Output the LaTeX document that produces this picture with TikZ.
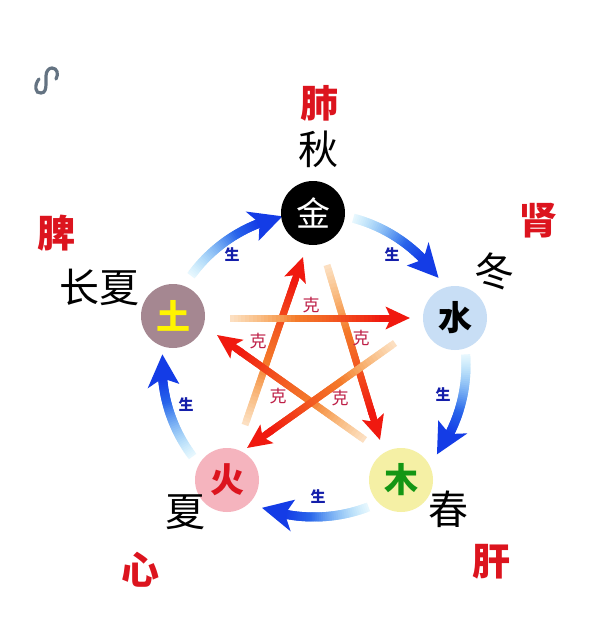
\documentclass[tikz,border=0pt]{standalone}
\usepackage{fontspec}
\newfontfamily\cjk{Noto Sans CJK SC}
\usetikzlibrary{calc,arrows.meta}
\definecolor{shblue}{RGB}{20,60,230}
\definecolor{shcyan}{RGB}{90,200,245}
\definecolor{kered}{RGB}{240,25,15}
\definecolor{keorange}{RGB}{245,150,50}
\definecolor{labred}{RGB}{220,20,30}
\definecolor{kelab}{RGB}{190,30,70}
\definecolor{shlab}{RGB}{20,30,170}
\definecolor{shuiblue}{RGB}{200,222,245}
\definecolor{muyellow}{RGB}{245,240,165}
\definecolor{huopink}{RGB}{245,180,190}
\definecolor{tumauve}{RGB}{165,135,145}
\definecolor{mugreen}{RGB}{20,150,20}
\definecolor{tuyellow}{RGB}{255,245,0}
\definecolor{linkgray}{RGB}{100,115,130}
\newcommand\shengarc[2]{%
  \pgfmathsetmacro\aend{#2+9}%
  \foreach \k in {0,...,39}{%
    \pgfmathsetmacro\sa{#1+(\aend-(#1))*\k/40}%
    \pgfmathsetmacro\ea{#1+(\aend-(#1))*(\k+2)/40}%
    \pgfmathsetmacro\p{100*\k/39}%
    \pgfmathsetmacro\q{min(100,15+120*\k/39)}%
    \draw[line width=9pt, draw=shblue!\p!shcyan!\q] ($(C)+(\sa:152)$) arc[start angle=\sa, end angle=\ea, radius=152];
  }%
  \pgfmathsetmacro\ba{#2+12}%
  \pgfmathsetmacro\ia{#2+9}%
  \fill[shblue] ($(C)+(#2:152)$) -- ($(C)+(\ba:168)$) -- ($(C)+(\ia:152)$) -- ($(C)+(\ba:136)$) -- cycle;
}
\newcommand\kearrow[2]{%
  \foreach \k in {0,...,39}{%
    \pgfmathsetmacro\sa{0.85*\k/40}%
    \pgfmathsetmacro\ea{0.85*(\k+2)/40}%
    \pgfmathsetmacro\p{min(100,100*(\k/39)^1.8)}%
    \pgfmathsetmacro\q{min(100,30+160*\k/39)}%
    \draw[line width=7pt, draw=kered!\p!keorange!\q] ($(#1)!\sa!(#2)$) -- ($(#1)!\ea!(#2)$);
  }%
  \draw[line width=7pt, kered, -{Stealth[length=24pt,width=22pt,inset=5pt]}] ($(#1)!0.83!(#2)$) -- (#2);
}
\tikzset{
  elem/.style={circle, minimum size=64pt, inner sep=0pt, font=\cjk\bfseries\fontsize{34}{34}\selectfont},
  organ/.style={text=labred, font=\cjk\bfseries\fontsize{38}{38}\selectfont, inner sep=0pt},
  season/.style={text=black, font=\cjk\fontsize{40}{40}\selectfont, inner sep=0pt},
  shenglab/.style={text=shlab, font=\cjk\bfseries\fontsize{15}{15}\selectfont, inner sep=0pt},
  kelabel/.style={text=kelab, font=\cjk\fontsize{17}{17}\selectfont, inner sep=0pt}
}
\begin{document}
\begin{tikzpicture}[x=1pt,y=1pt]
\useasboundingbox (0,0) rectangle (598,-639);
\fill[white] (0,0) rectangle (598,-639);
\coordinate (C) at (314,-365);
% link icon
\draw[linkgray, line width=3.2pt, line cap=round] (39,-79) .. controls (34,-85) and (35,-94) .. (41,-93) .. controls (45,-93) and (46,-89) .. (46,-84) -- (46,-76) .. controls (46,-71) and (49,-68) .. (52,-68) .. controls (57,-68) and (59,-74) .. (56,-79);
% ke star
\coordinate (a1) at (230,-318); \coordinate (a2) at (410,-318);
\coordinate (b1) at (395,-343); \coordinate (b2) at (247,-448);
\coordinate (c1) at (245,-425); \coordinate (c2) at (303,-257);
\coordinate (d1) at (327,-265); \coordinate (d2) at (380,-440);
\coordinate (e1) at (365,-440); \coordinate (e2) at (217,-335);
\kearrow{c1}{c2}
\kearrow{d1}{d2}
\kearrow{e1}{e2}
\kearrow{b1}{b2}
\kearrow{a1}{a2}
% sheng arcs
\shengarc{144}{102}
\shengarc{75}{35}
\shengarc{4}{-36}
\shengarc{-69}{-110}
\shengarc{-143}{-184}
% elements
\node[elem, fill=black, text=white, font=\cjk\fontsize{34}{34}\selectfont] (jin) at (313,-213) {金};
\node[elem, fill=shuiblue, text=black] (shui) at (455,-318) {水};
\node[elem, fill=muyellow, text=mugreen] (mu) at (401,-480) {木};
\node[elem, fill=huopink, text=labred] (huo) at (227,-480) {火};
\node[elem, fill=tumauve, text=tuyellow] (tu) at (173,-316) {土};
% labels
\node[organ] (fei) at (319,-103) {肺};
\node[season] (qiu) at (318,-149) {秋};
\node[organ] (shen) at (538,-221) {肾};
\node[season] (dong) at (494,-271) {冬};
\node[organ] (pi) at (56,-233) {脾};
\node[season] (changxia) at (99,-287) {长夏};
\node[organ] (gan) at (491,-562) {肝};
\node[season] (chun) at (448,-509) {春};
\node[organ] (xin) at (140,-570) {心};
\node[season] (xia) at (185,-512) {夏};
% sheng labels
\node[shenglab] (s1) at (232,-255) {生};
\node[shenglab] (s2) at (392,-255) {生};
\node[shenglab] (s3) at (443,-395) {生};
\node[shenglab] (s4) at (318,-497) {生};
\node[shenglab] (s5) at (186,-405) {生};
% ke labels
\node[kelabel] (k1) at (311,-305) {克};
\node[kelabel] (k2) at (258,-341) {克};
\node[kelabel] (k3) at (361,-338) {克};
\node[kelabel] (k4) at (278,-396) {克};
\node[kelabel] (k5) at (340,-398) {克};
\end{tikzpicture}
\end{document}
